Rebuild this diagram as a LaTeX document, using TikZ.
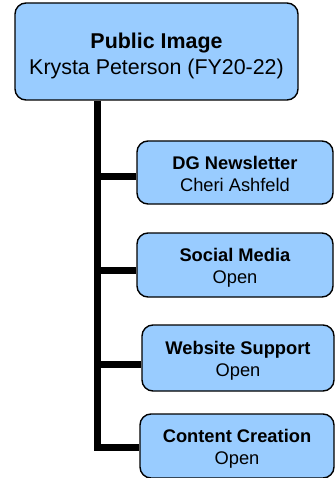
\documentclass[tikz,border=0pt]{standalone}
\usepackage{fontspec}
\setmainfont{Liberation Sans}
\usetikzlibrary{backgrounds}
\definecolor{boxblue}{HTML}{99CCFF}
\begin{document}
\begin{tikzpicture}[x=1pt,y=1pt,
  orgbox/.style={draw=black, line width=1.4pt, fill=boxblue, rounded corners=11pt,
    inner sep=0pt},
  boxtext/.style={align=center, inner sep=0pt, text=black},
  topfont/.style={font=\fontsize{21.4}{25.5}\selectfont},
  subfont/.style={font=\fontsize{18.3}{22.5}\selectfont},
  link/.style={line width=7pt, draw=black, line join=miter}]
\useasboundingbox (0,0) rectangle (335,-478);
\node[orgbox, minimum width=283pt, minimum height=97pt] (top) at (156.5,-51.5) {};
\node[orgbox, minimum width=196pt, minimum height=63pt] (b1) at (235,-172.5) {};
\node[orgbox, minimum width=196pt, minimum height=64pt] (b2) at (235,-265) {};
\node[orgbox, minimum width=192pt, minimum height=66pt] (b3) at (238,-358) {};
\node[orgbox, minimum width=194pt, minimum height=64pt] (b4) at (237,-446) {};
\node[boxtext, topfont] (t0) at ([yshift=-4.5pt]top.center)
  {\textbf{Public Image}\\Krysta Peterson (FY20-22)};
\node[boxtext, subfont] (t1) at ([yshift=-1.5pt]b1.center)
  {\textbf{DG Newsletter}\\Cheri Ashfeld};
\node[boxtext, subfont] (t2) at ([yshift=-3pt]b2.center)
  {\textbf{Social Media}\\Open};
\node[boxtext, subfont] (t3) at ([yshift=-3pt]b3.center)
  {\textbf{Website Support}\\Open};
\node[boxtext, subfont] (t4) at ([yshift=-3pt]b4.center)
  {\textbf{Content Creation}\\Open};
\coordinate (spine) at (97,0);
\coordinate (c1) at ([yshift=-4.5pt]b1.west);
\coordinate (c2) at ([yshift=-5pt]b2.west);
\coordinate (c3) at ([yshift=-6pt]b3.west);
\coordinate (c4) at ([yshift=-1pt]b4.west);
\begin{scope}[on background layer]
\draw[link] (spine |- top.south) -- (spine |- c4) -- (c4);
\draw[link] (spine |- c1) -- (c1);
\draw[link] (spine |- c2) -- (c2);
\draw[link] (spine |- c3) -- (c3);
\end{scope}
\end{tikzpicture}
\end{document}
